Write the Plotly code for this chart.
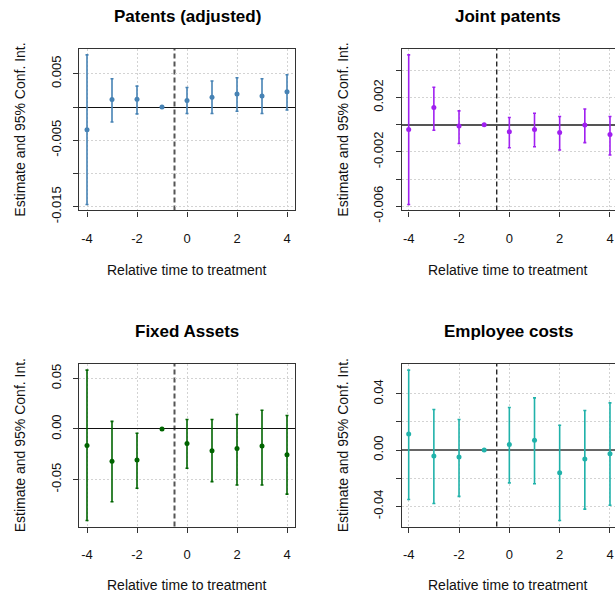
import plotly.graph_objects as go

W, H = 615, 610

# ---------------- data ----------------
rel_time = [-4, -3, -2, -1, 0, 1, 2, 3, 4]

patents_est = [-0.00343, 0.00113, 0.00118, 0.0, 0.00098, 0.00147, 0.00196, 0.00167, 0.00230]
patents_hi = [0.00784, 0.00426, 0.00314, None, 0.00294, 0.00392, 0.00441, 0.00426, 0.00485]
patents_lo = [-0.01466, -0.00225, -0.00103, None, -0.00098, -0.00098, -0.00064, -0.00098, -0.00044]

joint_est = [-0.00036, 0.00127, -0.00010, 0.0, -0.00053, -0.00036, -0.00057, -0.00002, -0.00072]
joint_hi = [0.00513, 0.00275, 0.00101, None, 0.00053, 0.00084, 0.00060, 0.00115, 0.00060]
joint_lo = [-0.00587, -0.00041, -0.00139, None, -0.00170, -0.00163, -0.00187, -0.00132, -0.00223]

assets_est = [-0.0163, -0.0319, -0.0306, 0.0, -0.0143, -0.0215, -0.0192, -0.0169, -0.0254]
assets_hi = [0.0583, 0.0075, -0.0042, None, 0.0094, 0.0094, 0.0143, 0.0186, 0.0134]
assets_lo = [-0.0906, -0.0720, -0.0586, None, -0.0388, -0.0521, -0.0554, -0.0554, -0.0645]

empl_est = [0.0114, -0.0042, -0.0049, 0.0, 0.0040, 0.0070, -0.0161, -0.0063, -0.0026]
empl_hi = [0.0569, 0.0289, 0.0217, None, 0.0303, 0.0371, 0.0177, 0.0282, 0.0336]
empl_lo = [-0.0352, -0.0380, -0.0329, None, -0.0233, -0.0240, -0.0501, -0.0420, -0.0392]

titles = ["Patents (adjusted)", "Joint patents", "Fixed Assets", "Employee costs"]
colors = ["#4682B4", "#A020F0", "#006400", "#20B2AA"]

ytickvals = [
    [-0.015, -0.010, -0.005, 0.0, 0.005],
    [-0.006, -0.004, -0.002, 0.0, 0.002, 0.004],
    [-0.05, 0.0, 0.05],
    [-0.04, -0.02, 0.0, 0.02, 0.04],
]
yticktext = [
    ["-0.015", "", "-0.005", "", "0.005"],
    ["-0.006", "", "-0.002", "", "0.002", ""],
    ["-0.05", "0.00", "0.05"],
    ["-0.04", "", "0.00", "", "0.04"],
]
xtickvals = [-4, -2, 0, 2, 4]
xticktext = ["-4", "-2", "0", "2", "4"]

series = [
    (patents_est, patents_lo, patents_hi),
    (joint_est, joint_lo, joint_hi),
    (assets_est, assets_lo, assets_hi),
    (empl_est, empl_lo, empl_hi),
]

# ---------------- layout geometry (pixels) ----------------
boxes = [  # left, right, top, bottom
    (79, 295, 50, 215),
    (401.7, 615, 50, 215),
    (79, 295, 372, 538),
    (401.7, 615, 372, 538),
]
xranges = [[-4.32, 4.32], [-4.278, 4.199], [-4.32, 4.32], [-4.278, 4.199]]
vline_style = [("#555555", 2), ("#000000", 1.2), ("#555555", 2), ("#000000", 1.2)]
zline_style = [("#111111", 1.3), ("#555555", 1.8), ("#111111", 1.3), ("#666666", 2.2)]

FONT = "Liberation Sans, Arial, sans-serif"

fig = go.Figure()
annotations = []
shapes = []

for i in range(4):
    est, lo, hi = series[i]
    plus = [None if h is None else h - e for h, e in zip(hi, est)]
    minus = [None if l is None else e - l for l, e in zip(lo, est)]
    xa = "x" if i == 0 else f"x{i+1}"
    ya = "y" if i == 0 else f"y{i+1}"
    fig.add_trace(go.Scatter(
        x=rel_time, y=est, mode="markers",
        marker=dict(color=colors[i], size=5),
        error_y=dict(type="data", symmetric=False, array=plus, arrayminus=minus,
                     color=colors[i], thickness=1.6, width=1.5),
        xaxis=xa, yaxis=ya, showlegend=False,
    ))

    # y range R-style (4% padding around data)
    vals = [v for v in lo + hi + est if v is not None]
    ymin, ymax = min(vals), max(vals)
    pad = (ymax - ymin) * 0.04
    yr = [ymin - pad, ymax + pad]

    l, r, t, b = boxes[i]
    xdom = [l / W, r / W]
    ydom = [1 - b / H, 1 - t / H]
    right_panel = i in (1, 3)
    zc, zw = zline_style[i]

    axkey_x = "xaxis" if i == 0 else f"xaxis{i+1}"
    axkey_y = "yaxis" if i == 0 else f"yaxis{i+1}"
    fig.update_layout(**{
        axkey_x: dict(
            domain=xdom, range=xranges[i], anchor=ya,
            tickvals=xtickvals, ticktext=xticktext,
            showline=True, linecolor="#333333", linewidth=1.2, mirror=True,
            ticks="outside", ticklen=5, tickcolor="#333333", tickwidth=1.2,
            showgrid=True, gridcolor="#d3d3d3", griddash="2px,2px", gridwidth=1,
            zeroline=False, ticklabelstandoff=11,
            tickfont=dict(family=FONT, size=13, color="#111111"),
        ),
        axkey_y: dict(
            domain=ydom, range=yr, anchor=xa,
            tickvals=ytickvals[i], ticktext=yticktext[i], tickangle=-90,
            showline=True, linecolor="#333333", linewidth=1.2,
            mirror=False if right_panel else True,
            ticks="outside", ticklen=5, tickcolor="#333333", tickwidth=1.2,
            showgrid=True, gridcolor="#d3d3d3", griddash="2px,2px", gridwidth=1,
            zeroline=True, zerolinecolor=zc, zerolinewidth=zw,
            ticklabelstandoff=7,
            tickfont=dict(family=FONT, size=13, color="#111111"),
        ),
    })

    # treatment line
    vc, vw = vline_style[i]
    shapes.append(dict(type="line", xref=xa, yref=f"{ya} domain", x0=-0.5, x1=-0.5, y0=0, y1=1,
                       line=dict(color=vc, width=vw, dash="5px,3px"), layer="below"))

    # titles
    cx = 187 if not right_panel else 508
    ty = 17 if i < 2 else 339
    xty = 276 if i < 2 else 598
    yty = (t + b) / 2
    ytx = 20 if not right_panel else 343
    annotations.append(dict(text="<b>" + titles[i] + "</b>", x=cx / W, y=1 - ty / H,
                            xref="paper", yref="paper", showarrow=False,
                            xanchor="center", yanchor="middle",
                            font=dict(family=FONT, size=17, color="#000000")))
    annotations.append(dict(text="Relative time to treatment", x=cx / W, y=1 - xty / H,
                            xref="paper", yref="paper", showarrow=False,
                            xanchor="center", yanchor="middle",
                            font=dict(family=FONT, size=14, color="#111111")))
    annotations.append(dict(text="Estimate and 95% Conf. Int.", x=ytx / W, y=1 - yty / H,
                            xref="paper", yref="paper", showarrow=False, textangle=-90,
                            xanchor="center", yanchor="middle",
                            font=dict(family=FONT, size=14, color="#111111")))

fig.update_layout(
    width=W, height=H,
    margin=dict(l=0, r=0, t=0, b=0),
    paper_bgcolor="white", plot_bgcolor="white",
    annotations=annotations, shapes=shapes,
    showlegend=False,
)

fig.write_html("out.html")
